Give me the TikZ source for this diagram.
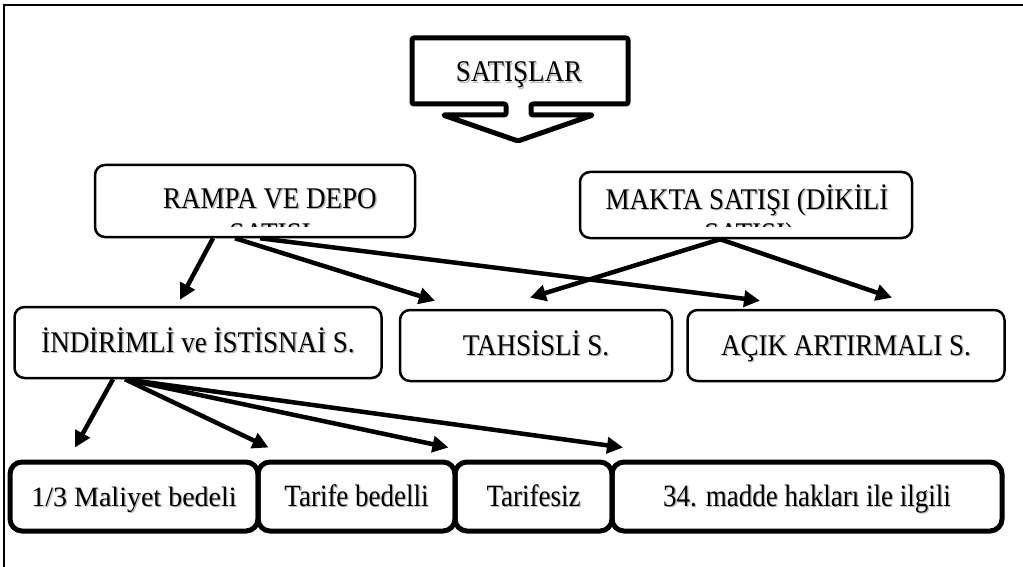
\documentclass[tikz,border=0pt]{standalone}
\usepackage{fontspec}
\setmainfont{Liberation Serif}
\newfontfamily\yazifont[FakeStretch=0.9]{Liberation Serif}
\newfontfamily\darfont[FakeStretch=0.87]{Liberation Serif}
\usetikzlibrary{arrows.meta}

% text with a soft grey shadow
\newcommand\golgeli[1]{\makebox[0pt][l]{\hspace{1.3pt}\raisebox{-1.3pt}{\textcolor{black!28}{#1}}}#1}

\tikzset{
  yazi/.style={inner sep=0pt, anchor=base, font=\yazifont\fontsize{30}{33}\selectfont},
  kutu/.style={draw, line width=2.5pt, rounded corners=10pt, inner sep=0pt,
    text height=20pt, text depth=0pt, font=\yazifont\fontsize{30}{33}\selectfont},
  altkutu/.style={draw, line width=5pt, rounded corners=12pt, inner sep=0pt,
    text height=20pt, text depth=0pt, minimum height=69pt,
    font=\darfont\fontsize{31}{34}\selectfont},
  ok/.style={line width=4.5pt, -{Triangle[length=16pt,width=16pt]}}
}

\begin{document}
\begin{tikzpicture}[x=1pt, y=-1pt]
    \useasboundingbox (0,0) rectangle (1023,567);
    % Frame
    \draw[line width=2pt] (4,567) -- (4,5) -- (1023,5);

    % Top callout
    \draw[line width=5pt, rounded corners=2pt, line join=round]
        (412,38) -- (628,38) -- (628,104) -- (531,104) -- (531,115) -- (593,115)
        -- (518,141) -- (443,115) -- (506,115) -- (506,104) -- (412,104) -- cycle;
    \node[yazi] (satislar) at (519,82) {\golgeli{SATIŞLAR}};

    % Second row
    \node[kutu, minimum width=320pt, minimum height=72pt] (rampa) at (255,201) {};
    \node[kutu, minimum width=332pt, minimum height=66pt] (makta) at (746,205) {};
    \node[yazi] (rampayazi) at (270,208) {\golgeli{RAMPA VE DEPO}};
    \node[yazi] (maktayazi) at (747,209) {\golgeli{MAKTA SATIŞI (DİKİLİ}};
    % the second lines overflow the boxes and are cut off
    \begin{scope}
        \clip (95,212) rectangle (415,226) (580,212) rectangle (912,226);
        \node[yazi] (rampaalt) at (270,243) {\golgeli{SATIŞI}};
        \node[yazi] (maktaalt) at (749,243) {\golgeli{SATIŞI)}};
    \end{scope}

    % Third row
    \node[kutu, minimum width=367pt, minimum height=71pt] (indirim) at (198,342.5) {\golgeli{İNDİRİMLİ ve İSTİSNAİ S.}};
    \node[kutu, minimum width=272pt, minimum height=71pt] (tahsis) at (536,345.5) {\golgeli{TAHSİSLİ S.}};
    \node[kutu, minimum width=317pt, minimum height=71pt] (acik) at (846,345.5) {\golgeli{AÇIK ARTIRMALI S.}};

    % Bottom row
    \node[altkutu, minimum width=248pt, font=\fontsize{28}{31}\selectfont] (maliyet) at (134,496.5) {\golgeli{1/3 Maliyet bedeli}};
    \node[altkutu, minimum width=197pt] (tarife) at (356.5,496.5) {\golgeli{Tarife bedelli}};
    \node[altkutu, minimum width=157pt] (tarifesiz) at (533.5,496.5) {\golgeli{Tarifesiz}};
    \node[altkutu, minimum width=390pt] (madde) at (807,496.5) {\golgeli{34. madde hakları ile ilgili}};

    % Arrows
    \draw[ok] ([xshift=-42pt]rampa.south) -- ([xshift=-18pt,yshift=6pt]indirim.north);
    \draw[ok] ([xshift=-20pt]rampa.south) -- ([xshift=-101pt,yshift=8pt]tahsis.north);
    \draw[ok] ([xshift=5pt]rampa.south) -- ([xshift=-86pt,yshift=8pt]acik.north);
    \draw[ok] ([xshift=-26pt]makta.south) -- ([xshift=-6pt,yshift=11pt]tahsis.north);
    \draw[ok] ([xshift=-26pt]makta.south) -- ([xshift=46pt,yshift=11pt]acik.north);
    \draw[ok] ([xshift=-85pt]indirim.south) -- ([xshift=-59pt,yshift=12pt]maliyet.north);
    \foreach \hedef/\dx in {tarife/-88, tarifesiz/-85, madde/-184}
        \draw[ok] ([xshift=-73pt]indirim.south) -- ([xshift=\dx pt,yshift=12pt]\hedef.north);
\end{tikzpicture}
\end{document}
